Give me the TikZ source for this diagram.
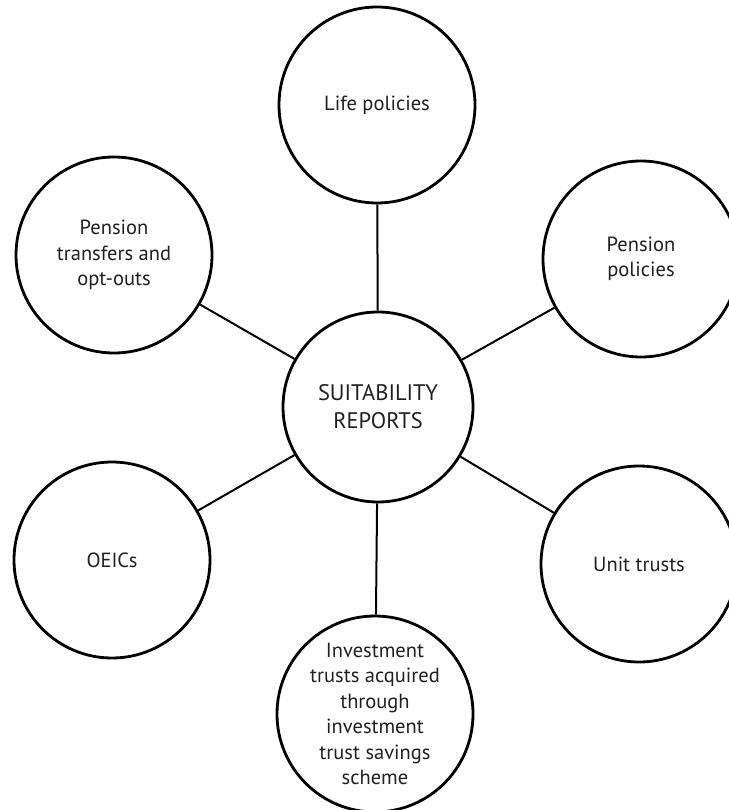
\documentclass[tikz,border=0pt]{standalone}
\usepackage{fontspec}
\setmainfont{PT Sans}
\definecolor{txt}{HTML}{231F20}
\begin{document}
\begin{tikzpicture}[x=1pt,y=-1pt,
  bubble/.style={circle,draw=black,line width=2.8pt,minimum size=196pt,inner sep=0pt,
    align=center,text=txt,font=\fontsize{20.5}{25.5}\selectfont},
  hub/.style={bubble,minimum size=190pt,font=\fontsize{22.5}{28}\selectfont},
  link/.style={draw=black,line width=2pt}]
\useasboundingbox (0,0) rectangle (728,810);
\node[hub] (c) at (378,407) {SUITABILITY\\REPORTS};
\node[bubble] (life) at (377,105) {Life policies};
\node[bubble] (pp) at (641,259) {Pension\\policies};
\node[bubble] (pt) at (114,255) {Pension\\transfers and\\opt-outs};
\node[bubble] (oe) at (112,560) {OEICs};
\node[bubble] (ut) at (639,564) {Unit trusts};
\node[bubble] (it) at (375,714) {Investment\\trusts acquired\\through\\investment\\trust savings\\scheme};
\foreach \n in {life,pp,pt,oe,ut,it} \draw[link] (c) -- (\n);
\end{tikzpicture}
\end{document}
